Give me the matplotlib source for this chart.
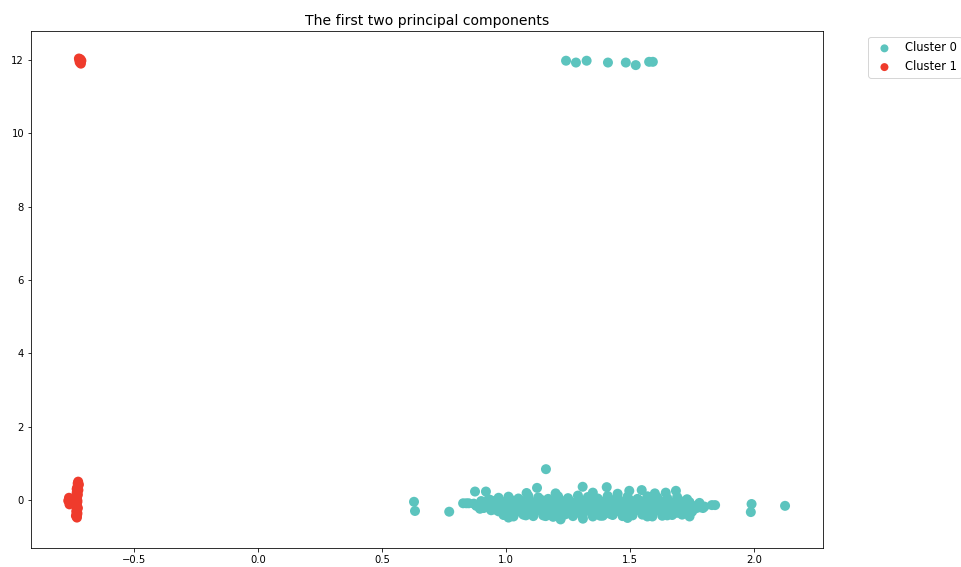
import matplotlib
matplotlib.use("Agg")
import matplotlib.pyplot as plt

# ---- data (PC1, PC2) ----
# cluster 0: dense band near y=0
c0_band_x = [
    0.84, 0.87, 0.90, 0.93, 0.96, 0.99, 1.02, 1.05, 1.08, 1.11, 1.14, 1.17,
    1.20, 1.23, 1.26, 1.29, 1.32, 1.35, 1.38, 1.41, 1.44, 1.47, 1.50, 1.53,
    1.56, 1.59, 1.62, 1.65, 1.68, 1.71, 1.74, 1.77, 1.80,
    0.91, 0.94, 0.97, 1.00, 1.03, 1.06, 1.09, 1.12, 1.15, 1.18, 1.21, 1.24,
    1.27, 1.30, 1.33, 1.36, 1.39, 1.42, 1.45, 1.48, 1.51, 1.54, 1.57, 1.60,
    1.63, 1.66, 1.69, 1.72, 1.75,
    0.93, 0.97, 1.01, 1.05, 1.09, 1.13, 1.17, 1.21, 1.25, 1.29, 1.33, 1.37,
    1.41, 1.45, 1.49, 1.53, 1.57, 1.61, 1.65, 1.69, 1.73,
    1.01, 1.08, 1.16, 1.22, 1.31, 1.38, 1.49, 1.57, 1.65, 1.74,
    0.875, 0.919, 1.083, 1.125, 1.20, 1.309, 1.35, 1.406, 1.45, 1.497, 1.547,
    1.60, 1.644, 1.685,
    0.88, 0.95, 1.04, 1.10, 1.19, 1.26, 1.34, 1.40, 1.47, 1.55, 1.62, 1.70,
    1.78, 1.83, 1.794, 1.843, 0.827, 0.85,
    0.895, 0.925, 0.955, 0.985, 1.015, 1.045, 1.075, 1.105, 1.135, 1.165,
    1.195, 1.225, 1.255, 1.285, 1.315, 1.345, 1.375, 1.405, 1.435, 1.465,
    1.495, 1.525, 1.555, 1.585, 1.615, 1.645, 1.675, 1.705, 1.735, 1.765,
    0.99, 1.03, 1.07, 1.11, 1.15, 1.19, 1.23, 1.27, 1.31, 1.35, 1.39, 1.43,
    1.47, 1.51, 1.55, 1.59, 1.63, 1.67, 1.71,
    0.90, 0.94, 0.98, 1.02, 1.06, 1.10, 1.14, 1.18, 1.22, 1.26, 1.30, 1.34,
    1.38, 1.42, 1.46, 1.50, 1.54, 1.58, 1.62, 1.66, 1.70, 1.74, 1.78,
]
c0_band_y = [
    -0.09, -0.10, -0.12, -0.05, -0.14, -0.08, -0.11, -0.03, -0.13, -0.07, -0.10, -0.15,
    -0.04, -0.09, -0.12, -0.06, -0.11, -0.08, -0.14, -0.05, -0.10, -0.13, -0.07, -0.09,
    -0.12, -0.04, -0.11, -0.08, -0.13, -0.10, -0.12, -0.15, -0.18,
    -0.22, -0.28, -0.31, -0.35, -0.27, -0.33, -0.38, -0.30, -0.36, -0.29, -0.34, -0.39,
    -0.31, -0.37, -0.28, -0.35, -0.32, -0.38, -0.30, -0.36, -0.33, -0.29, -0.37, -0.31,
    -0.34, -0.30, -0.35, -0.28, -0.32,
    0.02, 0.06, 0.09, 0.04, 0.11, 0.07, 0.03, 0.10, 0.05, 0.12, 0.08, 0.04,
    0.11, 0.06, 0.09, 0.03, 0.10, 0.07, 0.05, 0.08, 0.02,
    -0.48, -0.42, -0.44, -0.53, -0.51, -0.43, -0.49, -0.45, -0.42, -0.45,
    0.23, 0.23, 0.19, 0.33, 0.18, 0.36, 0.20, 0.35, 0.17, 0.25, 0.27,
    0.18, 0.20, 0.25,
    -0.16, -0.20, -0.22, -0.18, -0.24, -0.19, -0.23, -0.17, -0.21, -0.25, -0.18, -0.22,
    -0.20, -0.14, -0.22, -0.14, -0.09, -0.09,
    -0.24, -0.19, -0.26, -0.21, -0.25, -0.18, -0.27, -0.22, -0.20, -0.26,
    -0.23, -0.19, -0.25, -0.21, -0.27, -0.18, -0.24, -0.22, -0.26, -0.20,
    -0.23, -0.25, -0.19, -0.24, -0.21, -0.26, -0.22, -0.20, -0.25, -0.23,
    -0.41, -0.45, -0.40, -0.44, -0.42, -0.46, -0.41, -0.44, -0.40, -0.45, -0.43, -0.41,
    -0.44, -0.42, -0.40, -0.45, -0.43, -0.41, -0.40,
    -0.03, -0.01, -0.04, 0.00, -0.02, -0.05, 0.01, -0.03, -0.01, -0.04, 0.00, -0.02,
    -0.03, 0.01, -0.04, -0.01, -0.02, 0.00, -0.03, -0.05, -0.02, -0.06, -0.08,
]
# cluster 0: isolated points and the group near y=12
c0_out_x = [0.629, 0.633, 0.771, 1.161, 1.990, 1.987, 2.125,
            1.242, 1.282, 1.325, 1.411, 1.483, 1.523, 1.577, 1.592]
c0_out_y = [-0.05, -0.30, -0.32, 0.84, -0.11, -0.33, -0.16,
            11.98, 11.93, 11.98, 11.93, 11.93, 11.86, 11.95, 11.95]

# cluster 1: narrow column near x=-0.73 and a small group near y=12
c1_x = [-0.725, -0.722, -0.728, -0.724, -0.731, -0.727, -0.733, -0.729, -0.735,
        -0.730, -0.726, -0.732, -0.728, -0.734, -0.730, -0.727, -0.731, -0.729,
        -0.762, -0.765, -0.760, -0.750,
        -0.726, -0.729, -0.731, -0.728, -0.730, -0.732, -0.729, -0.731, -0.727,
        -0.730, -0.758, -0.757,
        -0.722, -0.716, -0.712, -0.719, -0.714, -0.720]
c1_y = [0.50, 0.42, 0.35, 0.27, 0.20, 0.13, 0.06, -0.01, -0.08,
        -0.15, -0.22, -0.29, -0.36, -0.43, -0.48, 0.45, 0.30, 0.00,
        0.06, -0.02, -0.12, -0.05,
        0.38, 0.24, 0.10, -0.05, -0.19, -0.33, -0.40, -0.45, 0.16,
        -0.26, 0.03, -0.09,
        12.04, 12.02, 11.98, 11.94, 11.90, 12.00]

labels = ["Cluster 0", "Cluster 1"]
colors = ["#5cc4be", "#ef3b2c"]

fig = plt.figure(figsize=(961 / 72, 567 / 72), dpi=72)
ax = fig.add_axes([0.0323, 0.0335, 0.8241, 0.9118])

ax.scatter(c0_band_x + c0_out_x, c0_band_y + c0_out_y, s=100,
           c=colors[0], edgecolors="none", label=labels[0])
ax.scatter(c1_x, c1_y, s=100, c=colors[1], edgecolors="none", label=labels[1])

ax.set_xlim(-0.915, 2.278)
ax.set_ylim(-1.31, 12.79)
ax.set_xticks([-0.5, 0.0, 0.5, 1.0, 1.5, 2.0])
ax.set_yticks([0, 2, 4, 6, 8, 10, 12])
ax.tick_params(labelsize=10)
ax.set_title("The first two principal components", fontsize=14)
ax.legend(bbox_to_anchor=(1.05, 1), loc="upper left", fontsize=11.5,
          markerscale=0.8)

fig.savefig("out.png", dpi=72)
